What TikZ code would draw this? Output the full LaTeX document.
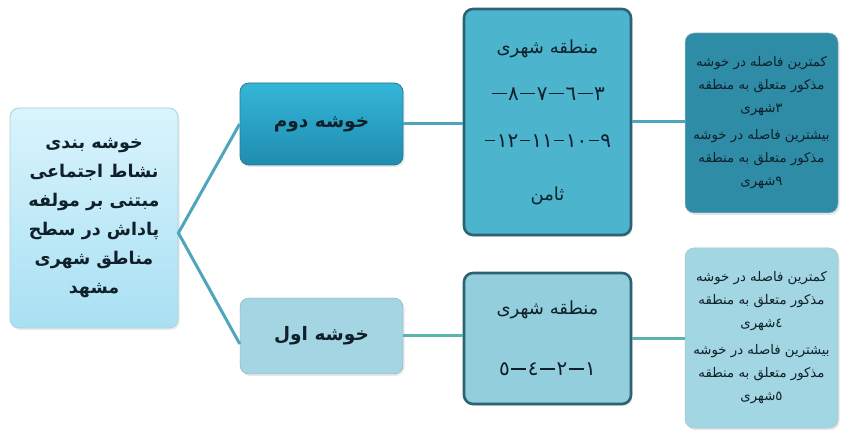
\documentclass[tikz,border=0pt]{standalone}
\usepackage{fontspec}
\usepackage{tikz}
\usetikzlibrary{positioning,shadows}
\TeXXeTstate=1
\newfontfamily\farsi[Script=Arabic]{DejaVu Sans}
\definecolor{RootTop}{HTML}{D9F4FC}
\definecolor{RootBot}{HTML}{A9E0F3}
\definecolor{RootLine}{HTML}{A8D3E0}
\definecolor{DarkTop}{HTML}{34B6D8}
\definecolor{DarkBot}{HTML}{1F8DB0}
\definecolor{DarkLine}{HTML}{2A7A90}
\definecolor{Pale}{HTML}{A3D5E2}
\definecolor{ZoneA}{HTML}{4DB4CE}
\definecolor{ZoneB}{HTML}{93CEDC}
\definecolor{Frame}{HTML}{2C6373}
\definecolor{NoteA}{HTML}{2F8CA6}
\definecolor{NoteB}{HTML}{A2D6E2}
\definecolor{Wire}{HTML}{4DA6BB}
\definecolor{WireB}{HTML}{5BB3AC}
\definecolor{Ink}{HTML}{10202A}
\newcommand{\rl}[1]{\beginR #1\endR}
\newcommand{\dsh}[1][15pt]{\hbox{\kern1.5pt\rule[6pt]{#1}{1.6pt}\kern1.5pt}}

\begin{document}
\begin{tikzpicture}[x=1pt,y=-1pt,
    box/.style={rounded corners=9pt,inner sep=0pt,align=center,text=Ink,
      drop shadow={opacity=0.18,shadow xshift=1.5pt,shadow yshift=-2pt}},
    rootbox/.style={box,top color=RootTop,bottom color=RootBot,draw=RootLine,line width=0.8pt,
      minimum width=168pt,minimum height=220pt,font=\farsi\bfseries\fontsize{17.5}{29}\selectfont},
    clusterbox/.style={box,minimum width=163pt,font=\farsi\bfseries\fontsize{18.5}{20}\selectfont},
    zonebox/.style={box,draw=Frame,line width=2.6pt,minimum width=167pt,font=\farsi\fontsize{18}{47}\selectfont},
    notebox/.style={box,draw=Frame!40,line width=0.5pt,minimum width=153pt,minimum height=180pt,
      font=\farsi\fontsize{13.3}{23}\selectfont},
    link/.style={draw=Wire,line width=3pt},
    linkb/.style={draw=WireB,line width=3pt}]
  \useasboundingbox (0,0) rectangle (841,430);

  % left root box
  \node[rootbox] (root) at (94,218)
    {\rl{خوشه بندی}\\ \rl{نشاط اجتماعی}\\ \rl{مبتنی بر مولفه}\\ \rl{پاداش در سطح}\\ \rl{مناطق شهری}\\ \rl{مشهد}};

  % clusters
  \node[clusterbox,minimum height=82pt,top color=DarkTop,bottom color=DarkBot,draw=DarkLine,line width=0.8pt]
    (dovom) at (321.5,124) {\rl{خوشه دوم}};
  \node[clusterbox,minimum height=76pt,fill=Pale,draw=Pale!80!black,line width=0.4pt]
    (aval) at (321.5,336) {\rl{خوشه اول}};

  % urban zones
  \node[zonebox,minimum height=226pt,fill=ZoneA] (zone2) at (547.5,122)
    {\rl{منطقه شهری}\\
     \fontsize{20}{47}\selectfont\dsh\hbox{٨}\dsh\hbox{٧}\dsh\hbox{٦}\dsh\hbox{٣}\\
     \fontsize{20}{47}\selectfont\dsh[10pt]\hbox{١٢}\dsh[10pt]\hbox{١١}\dsh[10pt]\hbox{١٠}\dsh[10pt]\hbox{٩}\\[6pt]
     \rl{ثامن}};
  \node[zonebox,minimum height=131pt,fill=ZoneB] (zone1) at (547.5,338.5)
    {\rl{منطقه شهری}\\[14pt]
     \fontsize{20}{47}\selectfont\hbox{٥}\dsh\hbox{٤}\dsh\hbox{٢}\dsh\hbox{١}};

  % notes
  \node[notebox,fill=NoteA] (note2) at (761.5,123)
    {\rl{کمترین فاصله در خوشه}\\ \rl{مذکور متعلق به منطقه}\\ \rl{\hbox{٣}شهری}\\[4pt]
     \rl{بیشترین فاصله در خوشه}\\ \rl{مذکور متعلق به منطقه}\\ \rl{\hbox{٩}شهری}};
  \node[notebox,fill=NoteB] (note1) at (761.5,338)
    {\rl{کمترین فاصله در خوشه}\\ \rl{مذکور متعلق به منطقه}\\ \rl{\hbox{٤}شهری}\\[4pt]
     \rl{بیشترین فاصله در خوشه}\\ \rl{مذکور متعلق به منطقه}\\ \rl{\hbox{٥}شهری}};

  % connectors
  \coordinate (fork) at ([yshift=-15pt]root.east);
  \coordinate (avalin) at ([yshift=-8pt]aval.west);
  \draw[link] (dovom.west) -- (fork) -- (avalin);
  \draw[link] (dovom.east) -- (dovom.east -| zone2.west);
  \draw[link] (zone2.east) -- (zone2.east -| note2.west);
  \draw[linkb] (aval.east) -- (aval.east -| zone1.west);
  \draw[linkb] (zone1.east) -- (zone1.east -| note1.west);
\end{tikzpicture}
\end{document}
